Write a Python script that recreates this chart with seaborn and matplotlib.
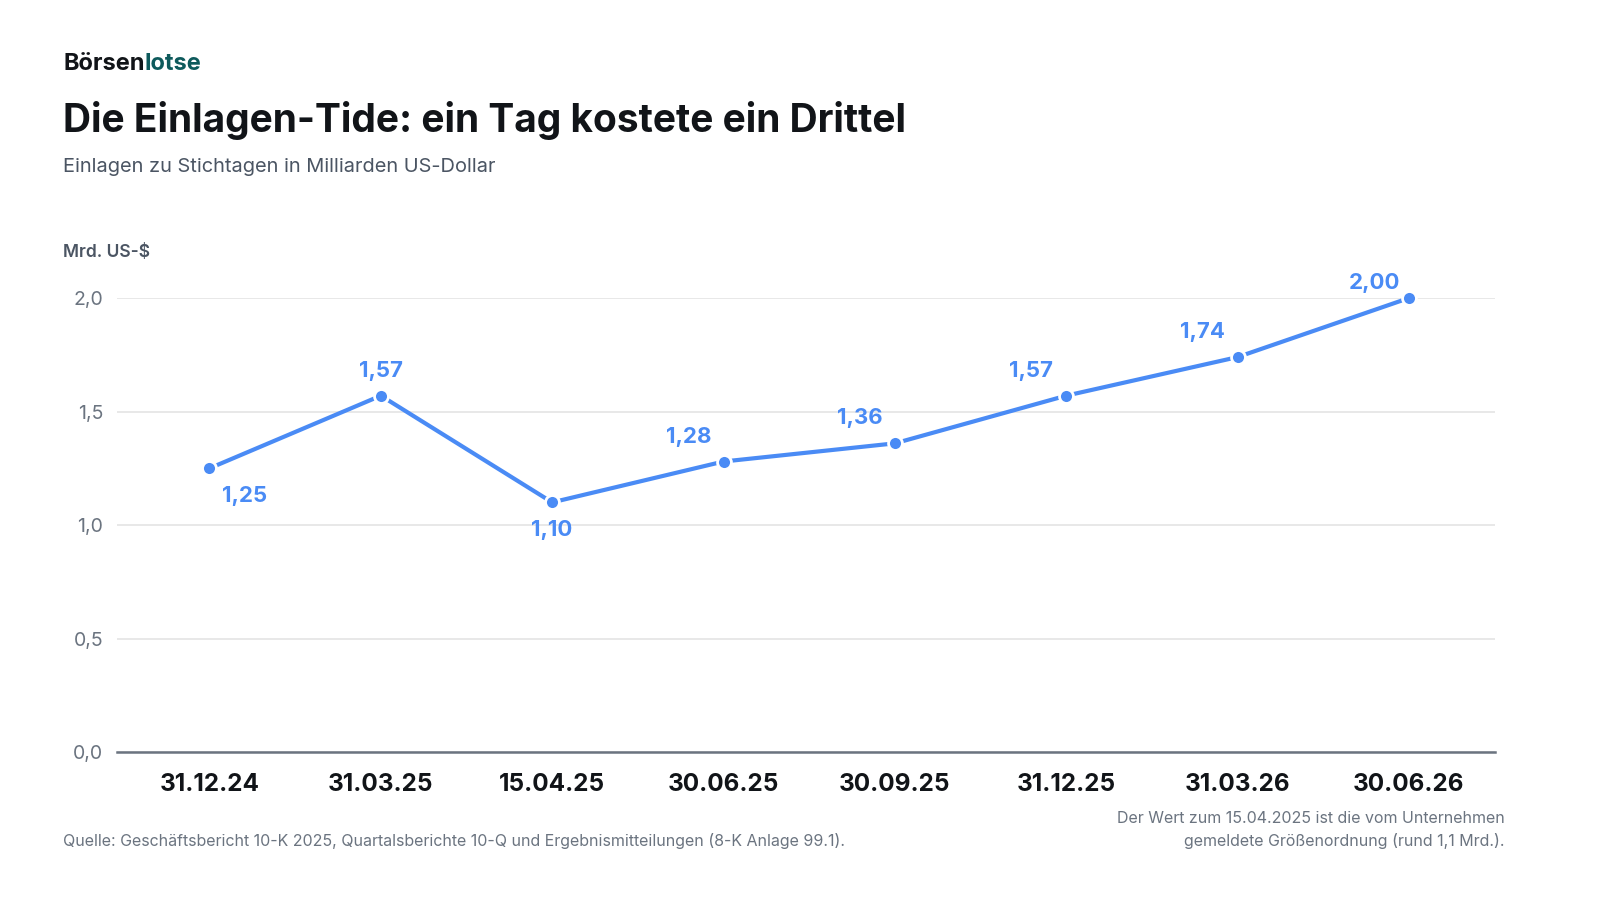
import pandas as pd
import seaborn as sns
import matplotlib.pyplot as plt

# data
dates = ["31.12.24", "31.03.25", "15.04.25", "30.06.25", "30.09.25", "31.12.25", "31.03.26", "30.06.26"]
deposits = [1.25, 1.57, 1.10, 1.28, 1.36, 1.57, 1.74, 2.00]
value_labels = ["1,25", "1,57", "1,10", "1,28", "1,36", "1,57", "1,74", "2,00"]
y_ticks = [0.0, 0.5, 1.0, 1.5, 2.0]
y_tick_labels = ["0,0", "0,5", "1,0", "1,5", "2,0"]

df = pd.DataFrame({"Stichtag": dates, "Einlagen": deposits})

sns.set_theme(style="white")
plt.rcParams["font.family"] = ["Inter", "DejaVu Sans"]

BLUE = "#4a8bf5"
DARK = "#111418"
GREY = "#6b7480"

fig = plt.figure(figsize=(16, 9), dpi=100)
ax = fig.add_axes([0.0731, 0.1644, 0.861, 0.5044])

sns.lineplot(data=df, x="Stichtag", y="Einlagen", ax=ax, color=BLUE, linewidth=3,
             marker="o", markersize=10, markeredgecolor="white", markeredgewidth=2,
             clip_on=False, zorder=5)

ax.set_xlim(-0.54, 7.5)
ax.set_ylim(0, 2.0)
ax.set_yticks(y_ticks)
ax.set_yticklabels(y_tick_labels, color=GREY, fontsize=14)
ax.set_xticks(range(len(dates)))
ax.set_xticklabels(dates, fontsize=17.5, fontweight="bold", color=DARK)
ax.tick_params(axis="y", length=0, pad=10)
ax.tick_params(axis="x", length=0, pad=15)
ax.set_xlabel("")
ax.set_ylabel("")

ax.grid(axis="y", color="#e4e4e4", linewidth=1.2)
ax.grid(axis="x", visible=False)
for side in ["top", "right", "left"]:
    ax.spines[side].set_visible(False)
ax.spines["bottom"].set_color(GREY)
ax.spines["bottom"].set_linewidth(1.8)
ax.spines["bottom"].set_zorder(6)

# value labels: (dx, dy) offsets in points
offsets = [(25, -20), (0, 18), (0, -20), (-25, 18), (-25, 18), (-25, 18), (-25, 18), (-25, 11)]
for i, (val, lab) in enumerate(zip(deposits, value_labels)):
    dx, dy = offsets[i]
    ax.annotate(lab, xy=(i, val), xytext=(dx, dy), textcoords="offset points",
                ha="center", va="center", fontsize=16, fontweight="bold",
                color=BLUE, annotation_clip=False)

# header: logo in two colours, second word placed right after the first
logo = fig.text(0.0394, 0.922, "Börsen", fontsize=17, fontweight="bold", color=DARK, va="baseline")
fig.canvas.draw()
x_end = logo.get_window_extent(fig.canvas.get_renderer()).x1 / fig.bbox.width
fig.text(x_end, 0.922, "lotse", fontsize=17, fontweight="bold", color="#0e5a5c", va="baseline")
fig.text(0.0394, 0.845, "Die Einlagen-Tide: ein Tag kostete ein Drittel",
         fontsize=28, fontweight="bold", color=DARK, va="bottom")
fig.text(0.0394, 0.805, "Einlagen zu Stichtagen in Milliarden US-Dollar",
         fontsize=14.4, color="#4b5563", va="bottom")
fig.text(0.0394, 0.71, "Mrd. US-$", fontsize=12.5, fontweight="semibold", color="#4b5563", va="bottom")

# footer
fig.text(0.0394, 0.057, "Quelle: Geschäftsbericht 10-K 2025, Quartalsberichte 10-Q und Ergebnismitteilungen (8-K Anlage 99.1).",
         fontsize=11.5, color=GREY, va="bottom")
fig.text(0.9406, 0.057, "Der Wert zum 15.04.2025 ist die vom Unternehmen\ngemeldete Größenordnung (rund 1,1 Mrd.).",
         fontsize=11.5, color=GREY, va="bottom", ha="right", linespacing=1.55)

fig.savefig("out.png", dpi=100, facecolor="white")
